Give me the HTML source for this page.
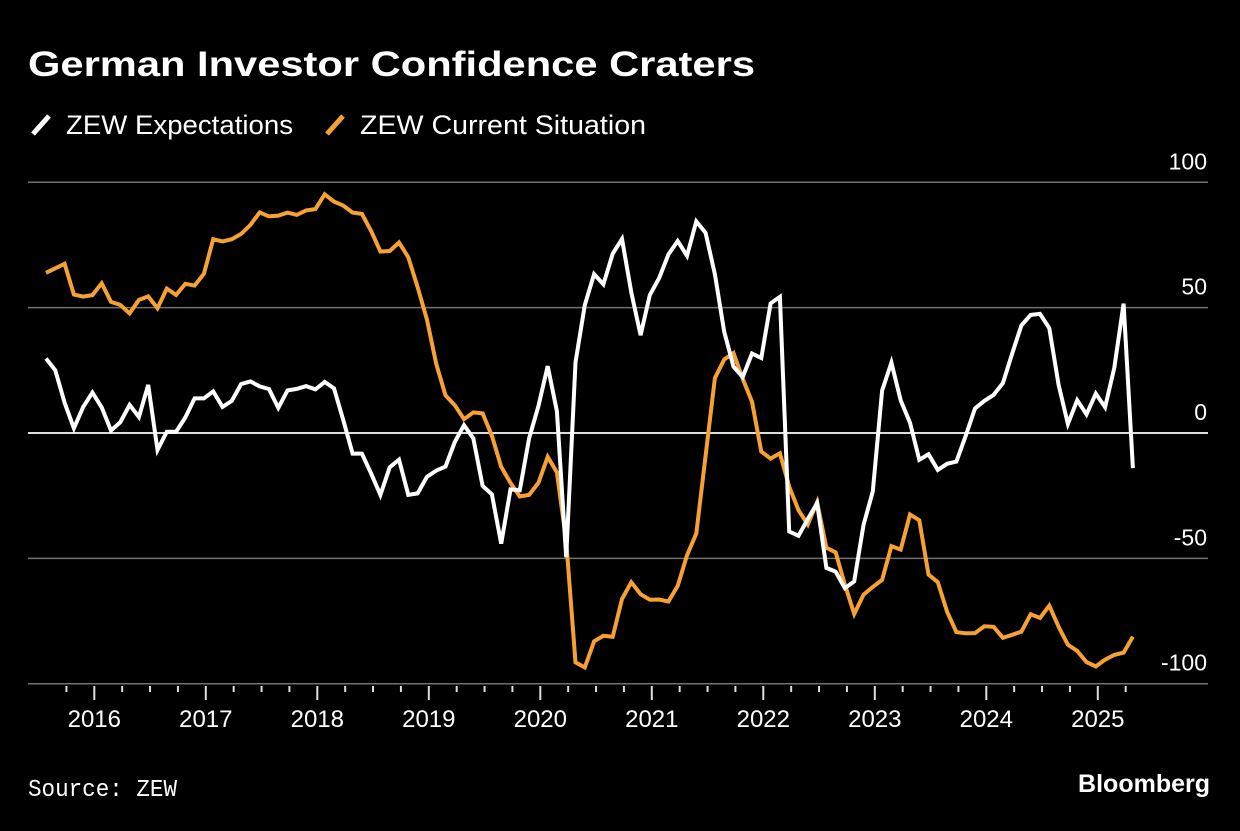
<!DOCTYPE html>
<html><head><meta charset="utf-8"><style>
body{margin:0;background:#000;width:1240px;height:826px;overflow:hidden;font-family:"Liberation Sans",sans-serif;color:#fff}
</style></head><body>
<svg width="1240" height="826">
<text x="28" y="76" font-size="35" font-weight="bold" fill="#fff" textLength="727" lengthAdjust="spacingAndGlyphs">German Investor Confidence Craters</text>
<g>
<line x1="33" y1="134" x2="49" y2="116" stroke="#fff" stroke-width="5"/>
<text x="66" y="134" font-size="27" fill="#fff" textLength="227" lengthAdjust="spacingAndGlyphs">ZEW Expectations</text>
<line x1="327" y1="134" x2="343" y2="116" stroke="#f7a133" stroke-width="5"/>
<text x="360" y="134" font-size="27" fill="#fff" textLength="286" lengthAdjust="spacingAndGlyphs">ZEW Current Situation</text>
</g>
<g id="grid"></g><g id="xaxis"></g><g id="series"></g>
<text x="28" y="796" font-size="24" font-family="Liberation Mono, monospace" fill="#fff" textLength="149" lengthAdjust="spacingAndGlyphs">Source: ZEW</text>
<text x="1210" y="792" font-size="25" font-weight="bold" text-anchor="end" fill="#fff">Bloomberg</text>
</svg>
<script>
const yTicks=[100,50,0,-50,-100];
const yearLabels=["2016","2017","2018","2019","2020","2021","2022","2023","2024","2025"];
const expectations=[29.7,25.0,12.1,1.9,10.4,16.1,
10.2,1.0,4.3,11.2,6.4,19.2,-6.8,0.5,0.5,6.2,13.8,13.8,
16.6,10.4,12.8,19.5,20.6,18.6,17.5,10.0,17.0,17.6,18.7,17.4,
20.4,17.8,5.1,-8.2,-8.2,-16.1,-24.7,-13.7,-10.6,-24.7,-24.1,-17.5,
-15.0,-13.4,-3.6,3.1,-2.1,-21.1,-24.5,-44.1,-22.5,-22.8,-2.1,10.7,
26.7,8.7,-49.5,28.2,51.0,63.4,59.3,71.5,77.4,56.1,39.0,55.0,
61.8,71.2,76.6,70.7,84.4,79.8,63.3,40.4,26.5,22.3,31.7,29.9,
51.7,54.3,-39.3,-41.0,-34.3,-28.0,-53.8,-55.3,-61.9,-59.2,-36.7,-23.3,
16.9,28.1,13.0,4.1,-10.7,-8.5,-14.7,-12.3,-11.4,-1.1,9.8,12.8,
15.2,19.9,31.7,42.9,47.1,47.5,41.8,19.2,3.6,13.1,7.4,15.7,
10.3,26.0,51.6,-14.0];
const current=[63.9,65.7,67.5,55.2,54.4,55.0,
59.7,52.3,51.1,47.7,53.1,54.5,49.8,57.6,55.1,59.5,58.8,63.5,
77.3,76.4,77.3,79.4,83.0,88.0,86.4,86.7,87.9,87.0,88.8,89.3,
95.2,92.3,90.7,87.9,87.4,80.6,72.4,72.6,76.0,70.1,58.2,45.3,
27.6,15.0,11.1,5.5,8.2,7.8,-1.1,-13.5,-19.9,-25.3,-24.7,-19.9,
-9.5,-15.7,-43.1,-91.5,-93.5,-83.1,-80.9,-81.3,-66.2,-59.5,-64.3,-66.5,
-66.4,-67.2,-61.0,-48.8,-40.1,-9.1,21.9,29.3,31.9,21.6,12.5,-7.4,
-10.2,-8.1,-21.4,-30.8,-36.5,-27.6,-45.8,-47.6,-60.5,-72.2,-64.5,-61.4,
-58.6,-45.1,-46.5,-32.5,-34.8,-56.5,-59.5,-71.3,-79.4,-79.9,-79.8,-77.1,
-77.3,-81.7,-80.5,-79.2,-72.3,-73.8,-68.9,-77.3,-84.5,-86.9,-91.4,-93.1,
-90.4,-88.5,-87.6,-81.2];
const NS="http://www.w3.org/2000/svg";
const y=v=>433-v*2.507;
const x=i=>46+i*9.29;
const yearX=k=>94.3+k*111.5;
function mk(t,a,p){const e=document.createElementNS(NS,t);for(const k in a)e.setAttribute(k,a[k]);p.appendChild(e);return e;}
const grid=document.getElementById('grid');
yTicks.forEach(v=>{
  const l=mk('line',{x1:28,x2:1208,y1:y(v),y2:y(v),stroke:v===0?'#ddd':'#707070','stroke-width':v===0?2:1.5},grid);
  
  
  const t=mk('text',{x:1207,y:y(v)-13,'font-size':23,'text-anchor':'end',fill:'#fff'},grid);
  t.textContent=v;
  
  
});
const xa=document.getElementById('xaxis');
for(let q=-2;q<41;q++){
  const xx=yearX(0)+q*111.5/4; if(xx<50||xx>1140)continue;
  const major=q%4===0;
  const tk=mk('line',{x1:xx,x2:xx,y1:686,y2:major?700:692,stroke:'#ddd','stroke-width':2},xa);
  
  
}
yearLabels.forEach((s,k)=>{
  const t=mk('text',{x:yearX(k),y:727,'font-size':24,'text-anchor':'middle',fill:'#fff'},xa);
  t.textContent=s;
  
  
});
const se=document.getElementById('series');
function line(arr,col,name){
  const p=mk('polyline',{points:arr.map((v,i)=>x(i).toFixed(1)+','+y(v).toFixed(1)).join(' '),fill:'none',stroke:col,'stroke-width':4,'stroke-linejoin':'miter'},se);
  
  
}
line(current,'#f7a133','current-situation-line');
line(expectations,'#fff','expectations-line');
</script>
</body></html>
